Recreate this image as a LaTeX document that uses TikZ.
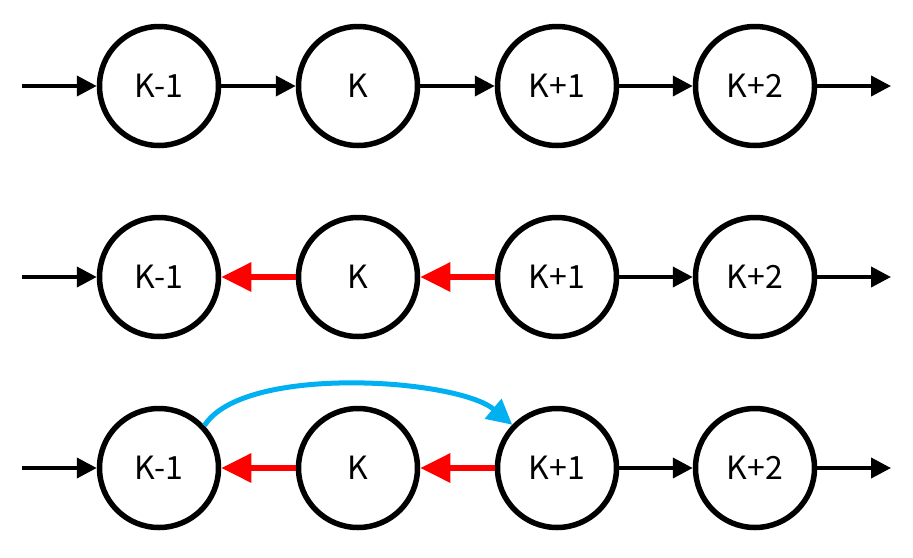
\documentclass[tikz,border=0pt]{standalone}
\usepackage{fontspec}
\setmainfont{Noto Sans CJK JP}
\usetikzlibrary{arrows.meta}
\definecolor{myred}{RGB}{255,0,0}
\definecolor{myblue}{RGB}{0,176,240}
\begin{document}
\begin{tikzpicture}[x=1pt,y=-1pt,
  state/.style={circle,draw=black,line width=5.5pt,minimum size=119pt,inner sep=0pt,font=\fontsize{32}{36}\selectfont},
  blk/.style={line width=4pt,-{Triangle[length=20pt,width=20pt]}},
  redarr/.style={draw=myred,line width=6pt,-{Triangle[length=30pt,width=28pt]}},
  bluearr/.style={draw=myblue,line width=5pt,-{Triangle[length=25pt,width=25pt]}}]
\useasboundingbox (0,0) rectangle (913,557);
\foreach \r/\y in {1/86,2/277,3/468}{
  \node[state] (a\r) at (159,\y) {K-1};
  \node[state] (b\r) at (358,\y) {K};
  \node[state] (c\r) at (557,\y) {K+1};
  \node[state] (d\r) at (755,\y) {K+2};
  \coordinate (s\r) at (22,\y);
  \coordinate (e\r) at (891,\y);
  \draw[blk] (s\r) -- (a\r);
  \draw[blk] (c\r) -- (d\r);
  \draw[blk] (d\r) -- (e\r);
}
\draw[blk] (a1) -- (b1);
\draw[blk] (b1) -- (c1);
\draw[redarr] (b2) -- (a2);
\draw[redarr] (c2) -- (b2);
\draw[redarr] (b3) -- (a3);
\draw[redarr] (c3) -- (b3);
\draw[bluearr] (a3.43) to[out=58,in=140,looseness=0.6] (c3.136);
\end{tikzpicture}
\end{document}
